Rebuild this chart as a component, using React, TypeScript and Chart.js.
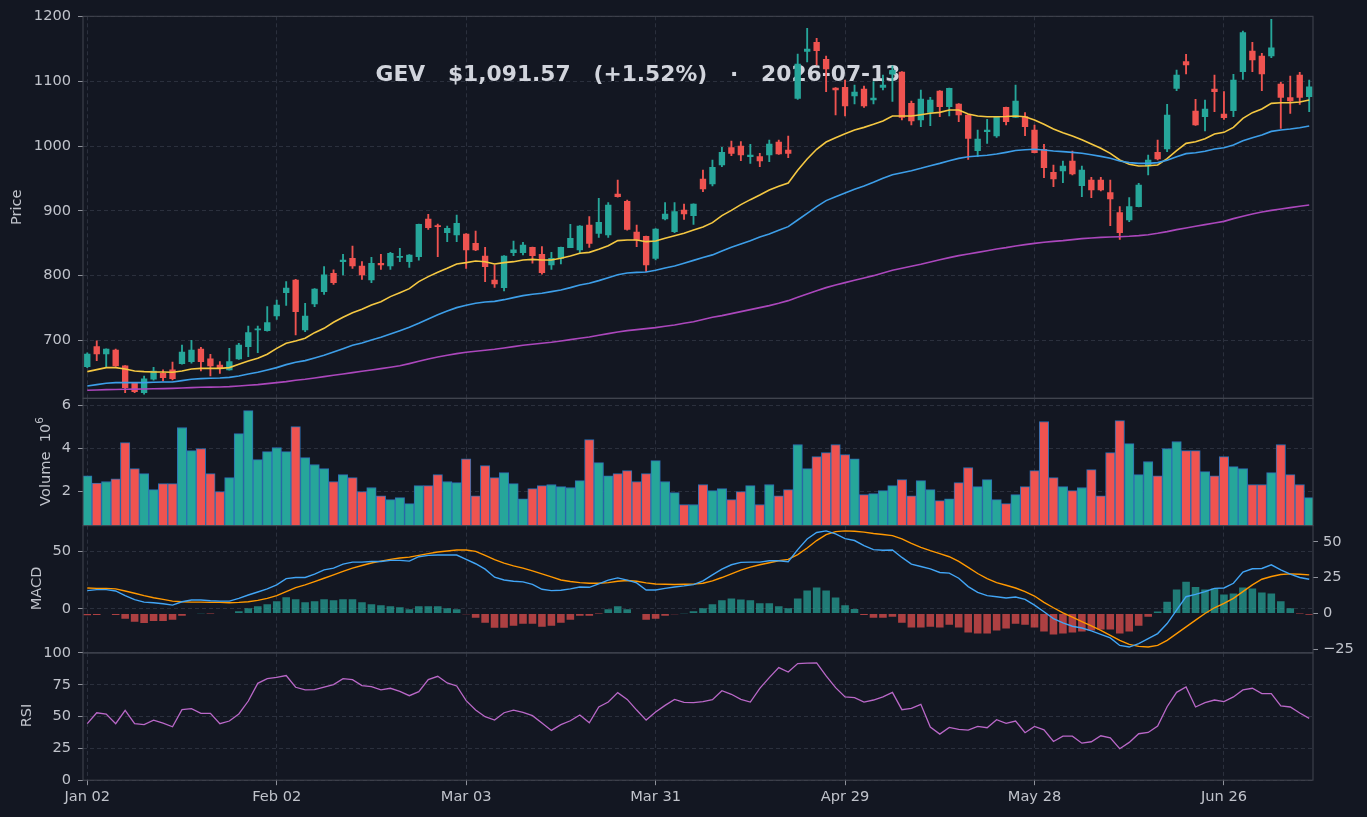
import React, { useEffect, useRef } from 'react';
import { Chart, registerables } from 'chart.js';

Chart.register(...registerables);

// ---------------- data ----------------
const xTickIdx = [0, 20, 40, 60, 80, 100, 120];
const xTickLabels = ['Jan 02', 'Feb 02', 'Mar 03', 'Mar 31', 'Apr 29', 'May 28', 'Jun 26'];

const openP = [
  659.3, 690.2, 678.9, 685.0, 660.4, 633.6, 619.2, 639.8, 649.0, 654.2,
  664.0, 667.0, 686.6, 671.2, 661.9, 654.2, 671.2, 690.2, 716.0, 715.0,
  737.6, 773.6, 793.2, 716.0, 756.1, 775.2, 803.5, 821.5, 826.7, 814.8,
  793.2, 819.0, 814.8, 828.2, 821.5, 829.2, 887.4, 876.6, 866.3, 862.7,
  864.3, 849.8, 830.3, 793.2, 781.4, 835.4, 835.4, 843.7, 832.9, 816.4,
  826.7, 843.2, 839.6, 878.2, 865.3, 862.7, 926.0, 914.7, 867.3, 860.6,
  826.7, 887.4, 867.8, 901.3, 892.6, 949.2, 941.5, 970.9, 997.6, 1000.2,
  983.7, 983.7, 986.3, 1006.4, 994.0, 1073.8, 1146.5, 1160.4, 1134.1, 1089.8,
  1090.8, 1077.5, 1088.3, 1071.3, 1090.8, 1111.0, 1114.5, 1066.1, 1040.4, 1052.2,
  1085.2, 1061.0, 1065.1, 1048.1, 993.0, 1022.3, 1015.6, 1059.9, 1044.5, 1045.5,
  1024.9, 995.1, 959.5, 961.6, 977.0, 938.9, 947.7, 947.7, 928.1, 897.2,
  885.9, 906.5, 969.3, 990.4, 995.6, 1089.3, 1130.5, 1054.3, 1045.5, 1088.3,
  1049.6, 1054.8, 1115.0, 1147.0, 1139.2, 1139.2, 1096.0, 1074.9, 1109.9, 1076.4,
];
const highP = [
  680.5, 699.0, 687.0, 686.6, 660.9, 634.5, 644.9, 658.3, 654.2, 666.5,
  692.8, 700.0, 689.2, 678.4, 667.0, 687.6, 695.4, 722.1, 722.1, 752.0,
  762.3, 790.6, 794.2, 757.2, 779.8, 813.8, 808.7, 832.9, 845.7, 821.5,
  828.2, 832.9, 836.0, 842.0, 832.5, 879.7, 894.6, 879.7, 876.6, 893.6,
  864.8, 868.9, 843.7, 816.4, 830.8, 853.5, 851.4, 844.2, 844.7, 836.0,
  844.2, 879.2, 877.1, 891.0, 919.2, 912.6, 947.7, 916.8, 878.2, 861.1,
  872.5, 912.6, 912.6, 910.6, 911.0, 963.1, 978.6, 998.1, 1007.9, 1006.9,
  1002.8, 988.9, 1009.5, 1009.5, 1015.6, 1142.3, 1182.2, 1166.5, 1139.2, 1090.3,
  1102.2, 1094.4, 1092.9, 1099.6, 1109.9, 1124.0, 1115.0, 1069.7, 1086.7, 1075.4,
  1085.7, 1089.8, 1065.6, 1048.6, 1024.9, 1041.4, 1045.0, 1060.4, 1094.4, 1051.7,
  1032.6, 1002.8, 970.9, 977.0, 992.5, 969.3, 951.8, 951.8, 947.7, 906.5,
  920.4, 942.5, 986.3, 1009.5, 1064.6, 1117.6, 1141.8, 1072.3, 1071.3, 1109.9,
  1084.1, 1111.0, 1177.9, 1160.4, 1143.4, 1195.9, 1098.6, 1108.3, 1114.0, 1102.2,
];
const lowP = [
  657.8, 668.6, 659.3, 659.5, 619.2, 619.2, 616.6, 638.5, 637.2, 638.7,
  663.0, 664.5, 652.6, 645.0, 649.0, 653.8, 670.6, 674.8, 681.0, 714.0,
  732.4, 754.0, 708.2, 713.4, 752.0, 771.0, 786.5, 801.0, 811.2, 794.2,
  789.0, 809.7, 809.7, 821.5, 812.8, 824.0, 871.5, 829.2, 852.4, 852.4,
  811.2, 838.5, 790.6, 781.9, 776.2, 830.8, 831.8, 819.0, 802.0, 809.7,
  817.9, 843.0, 835.4, 843.7, 859.1, 859.1, 921.0, 870.0, 844.7, 806.1,
  824.1, 885.9, 866.3, 886.9, 879.2, 929.7, 938.4, 968.3, 985.3, 977.5,
  973.4, 968.3, 976.0, 987.3, 982.2, 1072.3, 1130.2, 1125.3, 1084.1, 1048.1,
  1046.6, 1065.1, 1060.0, 1065.1, 1086.7, 1069.0, 1040.4, 1032.6, 1030.0, 1031.6,
  1045.5, 1046.6, 1037.8, 979.6, 983.7, 1004.3, 1013.6, 1032.6, 1044.0, 1016.2,
  989.4, 951.3, 937.4, 943.6, 955.4, 921.9, 920.4, 931.0, 877.1, 856.0,
  883.3, 906.0, 955.4, 978.6, 991.5, 1085.7, 1111.4, 1032.1, 1023.4, 1053.2,
  1041.4, 1045.5, 1103.2, 1115.0, 1085.7, 1136.6, 1027.5, 1050.7, 1064.6, 1053.2,
];
const closeP = [
  678.9, 678.9, 686.6, 660.4, 626.9, 620.7, 640.3, 652.6, 642.3, 640.8,
  682.0, 685.0, 667.0, 660.4, 657.8, 667.0, 692.8, 711.8, 717.5, 727.3,
  754.6, 780.8, 744.3, 737.6, 779.3, 801.0, 789.1, 824.1, 814.8, 800.9,
  819.0, 816.4, 834.4, 829.7, 831.8, 879.2, 874.0, 875.6, 873.0, 880.7,
  839.6, 839.6, 813.8, 787.0, 830.3, 839.6, 847.3, 830.8, 804.5, 826.7,
  843.7, 857.6, 876.6, 849.8, 882.3, 909.0, 922.0, 871.5, 855.0, 816.4,
  872.0, 895.2, 898.8, 895.2, 910.6, 933.8, 967.3, 990.4, 988.9, 986.3,
  986.3, 977.0, 1003.3, 987.8, 988.9, 1126.9, 1150.1, 1147.5, 1119.2, 1086.7,
  1062.0, 1083.6, 1062.0, 1074.4, 1094.4, 1117.0, 1044.5, 1038.8, 1072.8, 1071.3,
  1061.0, 1089.3, 1048.1, 1012.1, 1011.0, 1024.9, 1044.5, 1037.8, 1069.7, 1030.0,
  989.9, 966.7, 949.2, 969.3, 957.0, 963.1, 932.2, 932.2, 918.3, 866.3,
  906.5, 940.0, 978.6, 980.1, 1048.1, 1109.9, 1125.3, 1032.6, 1057.4, 1084.1,
  1044.0, 1102.2, 1175.3, 1133.1, 1111.4, 1152.0, 1075.4, 1069.7, 1075.2, 1091.6,
];
const volumeM = [
  2.74, 2.40, 2.47, 2.60, 4.28, 3.07, 2.84, 2.09, 2.37, 2.37,
  4.98, 3.91, 4.00, 2.84, 2.00, 2.65, 4.70, 5.77, 3.49, 3.86,
  4.05, 3.86, 5.02, 3.58, 3.26, 3.07, 2.47, 2.79, 2.65, 2.00,
  2.19, 1.81, 1.63, 1.72, 1.44, 2.28, 2.28, 2.79, 2.47, 2.42,
  3.53, 1.81, 3.21, 2.65, 2.88, 2.37, 1.67, 2.14, 2.28, 2.33,
  2.23, 2.19, 2.51, 4.42, 3.35, 2.74, 2.84, 2.98, 2.47, 2.84,
  3.44, 2.47, 1.95, 1.40, 1.40, 2.33, 2.05, 2.14, 1.63, 2.00,
  2.28, 1.40, 2.33, 1.81, 2.09, 4.19, 3.07, 3.63, 3.81, 4.19,
  3.72, 3.53, 1.86, 1.91, 2.05, 2.28, 2.56, 1.81, 2.51, 2.09,
  1.58, 1.67, 2.42, 3.12, 2.23, 2.56, 1.63, 1.44, 1.86, 2.23,
  2.98, 5.26, 2.65, 2.23, 2.05, 2.19, 3.02, 1.81, 3.81, 5.30,
  4.23, 2.79, 3.40, 2.74, 4.00, 4.33, 3.91, 3.91, 2.93, 2.74,
  3.63, 3.16, 3.07, 2.33, 2.33, 2.88, 4.19, 2.79, 2.33, 1.72,
];
const maFast = [
  651.6, 654.7, 657.8, 657.8, 655.7, 652.6, 651.6, 651.1, 651.1, 650.6,
  652.6, 655.7, 656.7, 656.7, 656.7, 657.8, 662.9, 668.1, 672.2, 678.4,
  687.6, 695.4, 699.0, 703.1, 711.8, 718.5, 727.8, 735.5, 742.7, 747.9,
  754.6, 759.7, 767.5, 773.6, 779.8, 790.6, 798.4, 805.0, 811.2, 817.9,
  820.0, 822.6, 821.5, 817.9, 820.0, 821.5, 824.1, 825.1, 824.1, 824.1,
  826.7, 830.3, 834.4, 835.9, 840.6, 846.2, 854.0, 855.0, 855.0, 852.4,
  853.5, 857.6, 861.7, 865.3, 870.4, 875.0, 881.8, 892.6, 900.8, 909.6,
  917.3, 924.5, 932.2, 937.9, 943.0, 962.6, 980.1, 995.1, 1006.4, 1013.1,
  1019.3, 1024.9, 1029.0, 1033.7, 1038.8, 1046.6, 1046.6, 1046.6, 1048.6, 1050.7,
  1052.2, 1055.8, 1055.8, 1049.6, 1046.6, 1045.5, 1045.5, 1045.8, 1046.6, 1045.5,
  1040.4, 1033.7, 1026.5, 1020.8, 1015.6, 1010.0, 1003.3, 996.6, 988.9, 978.6,
  971.9, 969.3, 969.8, 970.9, 980.6, 993.0, 1004.3, 1006.9, 1011.5, 1018.7,
  1021.3, 1029.0, 1042.9, 1051.7, 1057.4, 1066.1, 1067.1, 1067.1, 1068.2, 1071.3,
];
const maMid = [
  629.5, 631.5, 633.6, 634.6, 634.6, 634.6, 634.6, 635.1, 635.6, 635.6,
  637.7, 639.8, 640.8, 641.3, 641.8, 642.8, 644.9, 648.0, 650.6, 654.2,
  657.8, 662.4, 666.0, 668.6, 672.7, 676.8, 682.0, 687.1, 692.3, 695.9,
  700.5, 704.6, 709.8, 714.9, 720.1, 726.3, 733.0, 739.6, 745.3, 750.5,
  754.1, 757.2, 759.2, 760.2, 762.8, 765.9, 769.0, 771.1, 772.6, 775.2,
  777.8, 781.4, 785.5, 788.1, 792.2, 796.8, 801.4, 804.0, 805.0, 805.6,
  808.1, 811.7, 814.8, 819.0, 823.5, 828.0, 832.0, 838.0, 843.7, 848.8,
  854.0, 859.6, 864.3, 869.9, 875.6, 885.9, 896.2, 906.5, 915.8, 921.9,
  927.6, 933.3, 938.4, 944.1, 950.3, 955.9, 959.0, 962.1, 965.7, 969.8,
  973.4, 977.5, 981.1, 983.7, 984.8, 985.8, 987.8, 990.4, 993.2, 994.5,
  995.1, 994.0, 992.5, 991.5, 990.4, 988.9, 986.8, 984.2, 981.2, 977.0,
  974.5, 973.4, 973.4, 974.5, 978.1, 983.7, 988.4, 989.9, 992.0, 995.6,
  997.6, 1001.8, 1008.4, 1013.1, 1017.2, 1022.8, 1024.9, 1026.5, 1028.5, 1031.1,
];
const maSlow = [
  622.8, 623.3, 623.8, 624.0, 624.3, 624.6, 624.8, 625.1, 625.3, 625.8,
  626.4, 626.9, 627.4, 627.6, 627.9, 628.4, 629.5, 630.5, 631.5, 633.1,
  634.6, 636.1, 638.2, 639.8, 641.8, 643.9, 645.9, 648.0, 650.1, 652.1,
  654.2, 656.3, 658.3, 660.6, 664.0, 667.6, 671.2, 674.3, 676.8, 679.4,
  681.5, 683.0, 684.6, 686.1, 688.2, 690.2, 692.3, 693.8, 695.4, 696.9,
  699.0, 701.0, 703.1, 705.1, 707.7, 710.3, 712.9, 714.9, 716.5, 718.0,
  719.6, 721.6, 723.7, 726.3, 728.8, 732.2, 735.5, 738.1, 741.2, 744.3,
  747.4, 750.5, 753.6, 757.2, 761.3, 766.4, 771.6, 776.7, 781.4, 785.5,
  789.1, 792.7, 796.3, 799.9, 804.0, 808.1, 811.2, 814.3, 817.4, 821.0,
  824.6, 827.7, 830.8, 833.4, 835.9, 838.5, 841.1, 843.2, 845.8, 847.8,
  849.8, 851.4, 852.9, 854.0, 855.5, 857.1, 858.1, 859.1, 859.6, 860.1,
  860.7, 861.7, 863.2, 865.3, 867.9, 871.0, 873.6, 876.1, 878.7, 881.3,
  883.8, 888.0, 891.6, 895.2, 898.3, 900.8, 902.9, 905.0, 907.0, 909.1,
];
const macdLine = [
  15.8, 16.7, 16.7, 15.5, 11.4, 7.9, 5.8, 5.3, 4.4, 3.2,
  6.1, 7.6, 7.6, 7.0, 6.7, 6.7, 9.1, 12.0, 14.6, 17.3,
  20.8, 26.3, 27.2, 27.2, 30.1, 33.9, 35.4, 38.9, 40.6, 40.6,
  41.2, 41.2, 42.1, 42.1, 41.5, 45.3, 46.5, 46.8, 46.8, 46.8,
  43.0, 39.2, 34.5, 27.5, 25.1, 24.0, 23.4, 21.3, 17.0, 15.8,
  16.1, 17.3, 19.0, 18.7, 21.6, 24.9, 26.9, 24.9, 22.5, 16.4,
  16.4, 17.8, 19.0, 19.9, 21.0, 24.3, 29.5, 34.5, 38.3, 40.4,
  40.6, 40.6, 41.8, 41.8, 40.9, 51.5, 60.8, 66.4, 67.8, 65.2,
  61.1, 59.4, 55.0, 51.5, 50.9, 51.2, 44.7, 38.9, 36.8, 34.8,
  31.6, 31.0, 26.6, 19.3, 14.3, 11.4, 10.5, 9.4, 10.2, 8.2,
  3.2, -2.6, -8.5, -12.3, -15.2, -16.7, -19.3, -22.2, -25.4, -31.9,
  -33.3, -30.4, -26.0, -21.6, -12.9, -1.2, 10.5, 12.6, 14.9, 17.8,
  18.1, 22.2, 31.9, 34.8, 35.1, 38.3, 33.9, 30.1, 27.2, 25.7,
];
const signalLine = [
  18.1, 17.8, 17.8, 17.3, 15.5, 13.5, 11.4, 9.6, 8.2, 6.7,
  6.1, 5.8, 5.8, 5.6, 5.6, 5.3, 5.6, 6.1, 7.3, 9.1,
  11.4, 14.9, 18.4, 20.8, 23.7, 26.6, 29.5, 32.5, 35.4, 37.7,
  39.8, 41.5, 43.0, 44.2, 45.0, 46.5, 48.0, 49.4, 50.3, 51.2,
  51.2, 50.0, 46.5, 42.7, 39.8, 37.4, 35.4, 33.0, 30.4, 27.8,
  25.1, 23.7, 22.8, 22.2, 22.2, 22.8, 24.0, 24.6, 24.0, 22.5,
  21.6, 21.3, 21.1, 21.3, 21.5, 22.2, 24.3, 27.2, 30.4, 33.6,
  36.3, 38.3, 40.1, 41.8, 43.0, 47.1, 52.9, 59.4, 64.6, 67.2,
  67.8, 67.5, 66.7, 65.5, 64.6, 63.7, 60.8, 57.0, 53.5, 50.6,
  48.0, 45.3, 41.2, 36.0, 30.7, 26.3, 22.8, 20.5, 18.1, 14.9,
  11.1, 5.6, 0.9, -3.5, -7.3, -11.1, -14.9, -18.7, -23.1, -27.5,
  -31.0, -32.7, -33.3, -31.9, -27.5, -21.6, -15.8, -9.9, -4.1, 0.9,
  4.7, 9.1, 14.9, 20.8, 25.7, 28.1, 29.8, 30.4, 30.1, 29.5,
];
const macdHist = [
  -1.2, -1.0, -0.3, -1.0, -3.7, -5.7, -6.7, -5.3, -5.3, -4.4,
  -1.6, 0.3, 0.2, -0.1, -0.4, -0.4, 1.6, 3.7, 5.1, 6.4,
  8.5, 11.3, 9.9, 7.8, 8.5, 9.9, 9.2, 9.9, 9.9, 7.8,
  6.4, 5.7, 5.1, 4.4, 3.0, 5.1, 5.1, 5.1, 3.7, 3.0,
  -0.5, -3.0, -6.4, -9.9, -9.9, -8.5, -7.1, -7.1, -9.2, -8.5,
  -6.4, -4.4, -1.6, -1.6, -0.1, 3.0, 5.1, 3.0, -0.4, -4.4,
  -3.7, -1.6, -0.5, 0.1, 1.6, 3.7, 6.4, 9.2, 10.5, 9.8,
  9.2, 7.1, 7.1, 5.0, 3.7, 10.5, 16.0, 18.1, 16.0, 11.2,
  5.7, 3.2, -1.1, -3.0, -3.0, -2.3, -6.4, -9.8, -9.8, -9.2,
  -9.8, -7.8, -9.8, -13.3, -14.0, -14.0, -11.9, -10.5, -7.1, -7.8,
  -9.8, -12.6, -14.6, -14.0, -13.3, -12.6, -11.9, -11.2, -11.2, -14.0,
  -12.6, -8.5, -2.3, 1.4, 8.2, 16.7, 22.2, 18.5, 16.7, 17.4,
  13.3, 14.0, 18.1, 17.4, 14.6, 14.0, 8.5, 3.7, -0.1, -0.9,
];
const rsiValues = [
  44.4, 53.0, 52.0, 44.4, 54.9, 44.4, 43.6, 47.2, 44.9, 42.0,
  55.4, 56.2, 52.5, 52.5, 44.4, 46.5, 52.0, 62.2, 76.1, 79.8,
  80.8, 82.2, 73.0, 70.9, 71.1, 73.2, 75.1, 79.8, 79.0, 74.3,
  73.5, 70.9, 72.2, 69.8, 66.4, 69.6, 79.0, 81.6, 76.4, 74.0,
  62.5, 55.1, 49.9, 47.2, 53.0, 55.1, 53.3, 50.7, 44.9, 39.1,
  43.6, 46.7, 51.2, 45.1, 57.5, 61.4, 68.8, 63.5, 55.1, 47.2,
  53.5, 58.8, 63.5, 61.2, 60.9, 61.7, 63.3, 70.3, 67.5, 63.5,
  61.4, 72.2, 80.6, 88.5, 85.0, 91.6, 91.9, 92.1, 81.9, 72.7,
  65.4, 64.8, 61.4, 63.0, 65.4, 69.0, 55.4, 56.4, 59.6, 41.7,
  36.2, 41.5, 39.9, 39.4, 42.3, 41.2, 47.5, 44.6, 46.5, 37.3,
  42.3, 39.6, 30.4, 34.6, 34.6, 29.1, 30.2, 34.9, 33.3, 24.7,
  29.7, 36.5, 37.5, 42.5, 57.7, 69.0, 73.2, 57.5, 60.9, 63.0,
  61.7, 65.4, 70.9, 72.2, 68.0, 68.0, 58.3, 57.5, 52.8, 48.6,
];
const priceTicks = [700, 800, 900, 1000, 1100, 1200];
const volumeTicks = [2, 4, 6];
const macdTicksLeft = [0, 50];
const macdTicksRight = [-25, 0, 25, 50];
const rsiTicks = [0, 25, 50, 75, 100];
const titleText = 'GEV   $1,091.57   (+1.52%)   \u00b7   2026-07-13';

// ---------------- layout / style ----------------
const W = 1367;
const H = 817;
const PLOT_R_PAD = W - 1313;
const LEFT_AXIS_W = 83;
const X_MIN = -0.45;
const X_MAX = 129.4;
const PANELS = {
  price: [16.3, 398.3],
  vol: [398.3, 525.6],
  macd: [525.6, 652.9],
  rsi: [652.9, 780.2],
};
const BG = '#131722';
const GRID = '#323744';
const SPINE = '#434651';
const TICK_MARK = '#8f929b';
const TEXT = '#c0c3cb';
const TITLE = '#d1d4dc';
const UP = '#26a69a';
const DOWN = '#ef5350';
const UP_A = 'rgba(38,166,154,0.7)';
const DOWN_A = 'rgba(239,83,80,0.7)';
const FONT = '"DejaVu Sans", "Liberation Sans", sans-serif';
const FS = 14.6;

const idx = closeP.map((_, i) => i);
const candleColor = idx.map((i) => (closeP[i] >= openP[i] ? UP : DOWN));
const pts = (arr: number[]) => arr.map((v, i) => ({ x: i, y: v }));
const fmtNum = (v: number) => (v < 0 ? '\u2212' + Math.abs(v) : String(v));

function xScale(showLabels: boolean): any {
  return {
    type: 'linear',
    min: X_MIN,
    max: X_MAX,
    offset: false,
    bounds: 'data',
    afterBuildTicks: (ax: any) => {
      ax.ticks = xTickIdx.map((v) => ({ value: v }));
    },
    afterFit: (ax: any) => {
      ax.height = showLabels ? H - PANELS.rsi[1] : 0;
    },
    grid: {
      offset: false,
      color: GRID,
      lineWidth: 0.8,
      drawTicks: showLabels,
      tickLength: 5,
      tickColor: TICK_MARK,
      tickWidth: 1,
      tickBorderDash: [],
    },
    border: { display: false, dash: [4, 3] },
    ticks: {
      display: showLabels,
      autoSkip: false,
      maxRotation: 0,
      padding: 3,
      color: TEXT,
      font: { family: FONT, size: FS },
      callback: (v: number) => {
        const k = xTickIdx.indexOf(v);
        return k >= 0 ? xTickLabels[k] : '';
      },
    },
  };
}

function yScale(min: number, max: number, ticks: number[], position: 'left' | 'right', grid: boolean): any {
  return {
    type: 'linear',
    position,
    min,
    max,
    bounds: 'data',
    afterBuildTicks: (ax: any) => {
      ax.ticks = ticks.map((v) => ({ value: v }));
    },
    afterFit: (ax: any) => {
      ax.width = position === 'left' ? LEFT_AXIS_W : PLOT_R_PAD;
    },
    grid: {
      color: GRID,
      lineWidth: 0.8,
      drawOnChartArea: grid,
      drawTicks: true,
      tickLength: 5,
      tickColor: TICK_MARK,
      tickWidth: 1,
      tickBorderDash: [],
    },
    border: { display: false, dash: [4, 3] },
    ticks: {
      padding: position === 'left' ? 7 : 5,
      color: TEXT,
      font: { family: FONT, size: FS },
      callback: (v: number) => fmtNum(v),
    },
  };
}

const framePlugin = {
  id: 'frame',
  afterDraw(chart: any) {
    const { ctx, chartArea: a } = chart;
    ctx.save();
    ctx.strokeStyle = SPINE;
    ctx.lineWidth = 1;
    ctx.strokeRect(a.left, a.top, a.right - a.left, a.bottom - a.top);
    ctx.restore();
  },
};

function axisTitle(parts: { t: string; size: number; dy: number }[], cx: number, cy: number) {
  return {
    id: 'axisTitle',
    afterDraw(chart: any) {
      const ctx = chart.ctx;
      ctx.save();
      ctx.translate(cx, cy);
      ctx.rotate(-Math.PI / 2);
      ctx.fillStyle = TEXT;
      ctx.textBaseline = 'middle';
      ctx.textAlign = 'left';
      let total = 0;
      const widths = parts.map((p) => {
        ctx.font = `${p.size}px ${FONT}`;
        const w = ctx.measureText(p.t).width;
        total += w;
        return w;
      });
      let x = -total / 2;
      parts.forEach((p, k) => {
        ctx.font = `${p.size}px ${FONT}`;
        ctx.fillText(p.t, x, p.dy);
        x += widths[k];
      });
      ctx.restore();
    },
  };
}

const titlePlugin = {
  id: 'bigTitle',
  beforeDatasetsDraw(chart: any) {
    const ctx = chart.ctx;
    ctx.save();
    ctx.font = `bold 21.8px ${FONT}`;
    ctx.fillStyle = TITLE;
    ctx.textAlign = 'center';
    ctx.textBaseline = 'middle';
    ctx.fillText(titleText, 638, 75);
    ctx.restore();
  },
};

const commonOpts = (top: number, bottom: number, right: number): any => ({
  responsive: false,
  animation: false,
  events: [],
  layout: { padding: { left: 0, right, top, bottom } },
  plugins: { legend: { display: false }, tooltip: { enabled: false }, title: { display: false } },
});

function priceConfig(): any {
  const line = (arr: number[], color: string) => ({
    type: 'line',
    data: pts(arr),
    borderColor: color,
    borderWidth: 1.6,
    pointRadius: 0,
    tension: 0,
    order: 0,
  });
  return {
    type: 'bar',
    data: {
      datasets: [
        {
          type: 'bar',
          data: idx.map((i) => ({ x: i, y: [lowP[i], highP[i]] })),
          backgroundColor: candleColor,
          borderWidth: 0,
          barThickness: 1.2,
          grouped: false,
          order: 3,
        },
        {
          type: 'bar',
          data: idx.map((i) => ({ x: i, y: [openP[i], closeP[i]] })),
          backgroundColor: candleColor,
          borderWidth: 0,
          barThickness: 5.7,
          minBarLength: 1,
          grouped: false,
          order: 2,
        },
        line(maSlow, '#ab47bc'),
        line(maMid, '#3d9ee8'),
        line(maFast, '#f5c842'),
      ],
    },
    options: {
      ...commonOpts(PANELS.price[0], H - PANELS.price[1], PLOT_R_PAD),
      scales: {
        x: xScale(false),
        y: yScale(610.4, 1200.6, priceTicks, 'left', true),
      },
    },
    plugins: [titlePlugin, framePlugin, axisTitle([{ t: 'Price', size: FS, dy: 0 }], 17.5, 207.3)],
  };
}

function volumeConfig(): any {
  return {
    type: 'bar',
    data: {
      datasets: [
        {
          data: pts(volumeM),
          backgroundColor: candleColor,
          borderColor: '#2c6fb3',
          borderWidth: 1,
          barPercentage: 1,
          categoryPercentage: 1,
          grouped: false,
        },
      ],
    },
    options: {
      ...commonOpts(PANELS.vol[0], H - PANELS.vol[1], PLOT_R_PAD),
      scales: {
        x: xScale(false),
        y: yScale(0.42, 6.34, volumeTicks, 'left', true),
      },
    },
    plugins: [
      framePlugin,
      axisTitle(
        [
          { t: 'Volume  10', size: FS, dy: 0 },
          { t: '6', size: 10.5, dy: -6 },
        ],
        46.7,
        461.5,
      ),
    ],
  };
}

function macdConfig(): any {
  return {
    type: 'bar',
    data: {
      datasets: [
        {
          type: 'bar',
          data: pts(macdHist),
          yAxisID: 'y2',
          backgroundColor: macdHist.map((v) => (v >= 0 ? UP_A : DOWN_A)),
          borderWidth: 0,
          barPercentage: 0.8,
          categoryPercentage: 1,
          grouped: false,
          order: 3,
        },
        {
          type: 'line',
          data: pts(signalLine),
          yAxisID: 'y',
          borderColor: '#ff9800',
          borderWidth: 1.4,
          pointRadius: 0,
          tension: 0,
          order: 1,
        },
        {
          type: 'line',
          data: pts(macdLine),
          yAxisID: 'y',
          borderColor: '#42a5f5',
          borderWidth: 1.4,
          pointRadius: 0,
          tension: 0,
          order: 0,
        },
      ],
    },
    options: {
      ...commonOpts(PANELS.macd[0], H - PANELS.macd[1], 0),
      scales: {
        x: xScale(false),
        y: yScale(-38.4, 72.4, macdTicksLeft, 'left', true),
        y2: yScale(-27.5, 61.3, macdTicksRight, 'right', false),
      },
    },
    plugins: [framePlugin, axisTitle([{ t: 'MACD', size: FS, dy: 0 }], 37.5, 588.5)],
  };
}

function rsiConfig(): any {
  return {
    type: 'line',
    data: {
      datasets: [
        {
          data: pts(rsiValues),
          borderColor: '#ba68c8',
          borderWidth: 1.3,
          pointRadius: 0,
          tension: 0,
        },
      ],
    },
    options: {
      ...commonOpts(PANELS.rsi[0], 0, PLOT_R_PAD),
      scales: {
        x: xScale(true),
        y: yScale(0, 100, rsiTicks, 'left', true),
      },
    },
    plugins: [framePlugin, axisTitle([{ t: 'RSI', size: FS, dy: 0 }], 27.5, 715.5)],
  };
}

export default function App() {
  const r1 = useRef<HTMLCanvasElement>(null);
  const r2 = useRef<HTMLCanvasElement>(null);
  const r3 = useRef<HTMLCanvasElement>(null);
  const r4 = useRef<HTMLCanvasElement>(null);

  useEffect(() => {
    document.body.style.margin = '0';
    document.body.style.background = BG;
    Chart.defaults.font.family = FONT;
    const charts = [
      new Chart(r1.current as HTMLCanvasElement, priceConfig()),
      new Chart(r2.current as HTMLCanvasElement, volumeConfig()),
      new Chart(r3.current as HTMLCanvasElement, macdConfig()),
      new Chart(r4.current as HTMLCanvasElement, rsiConfig()),
    ];
    return () => charts.forEach((c) => c.destroy());
  }, []);

  const cs: React.CSSProperties = { position: 'absolute', left: 0, top: 0, width: W, height: H };
  return (
    <div style={{ position: 'fixed', left: 0, top: 0, width: W, height: H, background: BG, overflow: 'hidden' }}>
      <canvas ref={r1} width={W} height={H} style={cs} />
      <canvas ref={r2} width={W} height={H} style={cs} />
      <canvas ref={r3} width={W} height={H} style={cs} />
      <canvas ref={r4} width={W} height={H} style={cs} />
    </div>
  );
}
